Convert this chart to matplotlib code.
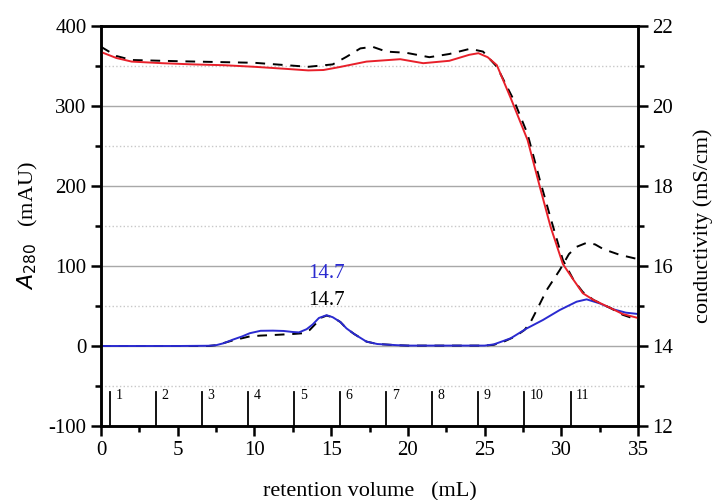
import matplotlib.pyplot as plt
from matplotlib.ticker import MultipleLocator
import numpy as np

# conductivity traces (mS/cm)
cond_v = [0, 1, 2, 4, 6, 8, 10, 12, 13.5, 14.5, 15.5, 17.3, 19.5, 21, 22.7, 24, 24.6,
          25.2, 25.8, 26.7, 27.8, 28.6, 29.3, 30.1, 30.8, 31.4, 32.1, 33.2, 34, 35]
cond_a = [21.35, 21.2, 21.11, 21.07, 21.04, 21.02, 20.98, 20.93, 20.89, 20.9, 20.97, 21.11,
          21.17, 21.07, 21.13, 21.28, 21.32, 21.22, 21.02, 20.2, 19.15, 17.98, 16.98, 16.05,
          15.65, 15.32, 15.15, 14.95, 14.8, 14.7]
cond2_v = [0, 1, 2, 5, 10, 13.5, 15.1, 16.0, 16.9, 17.7, 18.6, 19.9, 21.4, 22.7, 24.05,
           24.9, 25.8, 26.9, 27.8, 28.6, 29.3, 30.1, 30.8, 31.4, 32.1, 33.2, 34, 35]
cond_b = [21.48, 21.25, 21.15, 21.12, 21.08, 20.98, 21.04, 21.23, 21.44, 21.48, 21.36, 21.33,
          21.22, 21.3, 21.43, 21.36, 20.98, 20.15, 19.3, 18.15, 17.2, 16.15, 15.65, 15.35,
          15.15, 14.95, 14.78, 14.65]

# A280 traces (mAU)
uv_v = [0, 5, 7, 7.5, 8, 8.6, 9.2, 9.7, 10.4, 11.2, 11.9, 12.5, 12.9, 13.4, 13.8, 14.2, 14.7,
        15.1, 15.6, 16.0, 16.5, 17.3, 18, 19.3, 20, 25, 25.6, 26.7, 27.75, 28.8, 29.9, 31,
        31.65, 32.5, 33.4, 34.2, 35]
uv_a = [0, 0, 0.3, 1, 3.5, 8, 12, 16, 19, 19.2, 18.8, 17.5, 17, 21, 27, 35, 38.5,
        36, 30, 22, 15, 5.5, 2.5, 1, 0.5, 0.5, 2, 9.6, 22, 32.5, 45, 55.4,
        58.3, 53.3, 45.8, 41.7, 40]
uv2_v = [0, 7, 7.5, 8.6, 9.7, 10.4, 11.5, 12.5, 13.2, 13.6, 14.0, 14.3, 14.7, 15.1, 15.6,
         16.0, 16.5, 17.3, 18, 19.3, 20, 25, 25.6, 26.2, 27, 27.6, 28, 28.4, 29.05, 29.9,
         30.5, 31, 31.65, 32.2, 32.75, 33.8, 34.9, 35]
uv_b = [0, 0, 1, 7, 12, 13, 14, 15, 16, 20, 28, 35, 38, 36, 30, 22, 15, 5.5, 2.5, 1,
        0.5, 0.5, 1.5, 5, 12, 20, 30, 45, 70, 95, 115, 124, 129, 127, 121, 114, 109, 108]

# fraction collector marks
fraction_starts = [0.6, 3.6, 6.6, 9.6, 12.6, 15.6, 18.6, 21.6, 24.6, 27.6, 30.6]
fraction_labels = [str(i) for i in range(1, 12)]

peak_pos = 14.7

plt.rcParams['font.family'] = ['Liberation Serif', 'DejaVu Serif']
plt.rcParams['axes.unicode_minus'] = False

fig = plt.figure(figsize=(7.22, 5.0), dpi=100)
ax = fig.add_axes([0.1399, 0.148, 0.7438, 0.80])
ax2 = ax.twinx()

ax.set_xlim(0, 35)
ax.set_ylim(-100, 400)
ax2.set_ylim(12, 22)

ax.xaxis.set_major_locator(MultipleLocator(5))
ax.xaxis.set_minor_locator(MultipleLocator(2.5))
ax.yaxis.set_major_locator(MultipleLocator(100))
ax.yaxis.set_minor_locator(MultipleLocator(50))
ax2.yaxis.set_major_locator(MultipleLocator(2))
ax2.yaxis.set_minor_locator(MultipleLocator(1))

ax.grid(True, which='major', axis='y', color='#a8a8a8', lw=1.0)
ax.grid(True, which='minor', axis='y', color='#c8c8c8', lw=1.0, ls=':')
ax.set_axisbelow(True)

for a in (ax, ax2):
    for s in a.spines.values():
        s.set_linewidth(1.8)
    a.tick_params(which='major', direction='out', length=7, width=1.8, labelsize=15)
    a.tick_params(which='minor', direction='out', length=4, width=1.8)
ax.tick_params(top=False, which='both')

# traces
ax.plot(uv2_v, uv_b, color='black', lw=1.4, ls=(0, (5, 4)))
ax.plot(uv_v, uv_a, color='#2a2ad0', lw=1.4)
ax2.plot(cond2_v, cond_b, color='black', lw=1.4, ls=(0, (5, 4)))
ax2.plot(cond_v, cond_a, color='#e8202a', lw=1.4)

# fraction marks
for xf, lab in zip(fraction_starts, fraction_labels):
    ax.plot([xf, xf], [-100, -58], color='black', lw=1.3, clip_on=False)
    ax.text(xf + 0.35, -62, lab, fontsize=10, ha='left', va='center')

ax.text(peak_pos, 91, '14.7', color='#2a2ad0', fontsize=15, ha='center', va='center')
ax.text(peak_pos, 57, '14.7', color='black', fontsize=15, ha='center', va='center')

ax.set_xlabel('retention volume   (mL)', fontsize=16, labelpad=16)
ax.set_ylabel(r'$A_{280}$   (mAU)', fontsize=16, labelpad=6)
ax2.set_ylabel('conductivity (mS/cm)', fontsize=16, labelpad=14)

fig.savefig('out.png', dpi=100)
